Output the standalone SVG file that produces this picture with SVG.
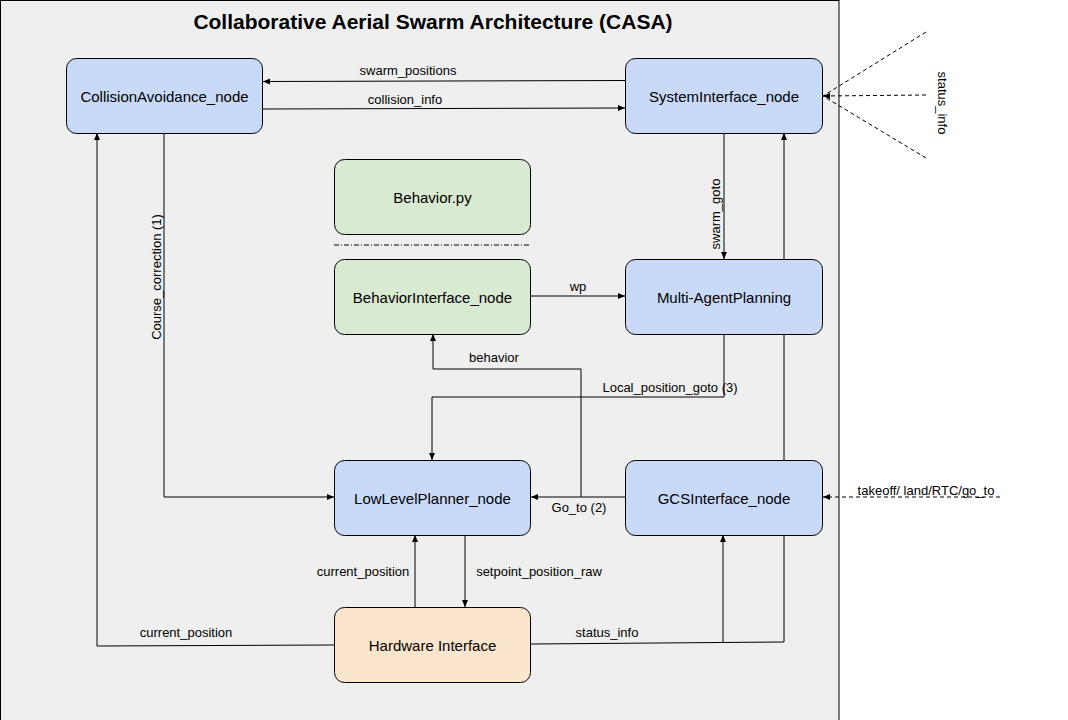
<svg xmlns="http://www.w3.org/2000/svg" width="1068" height="720" viewBox="0 0 1068 720">
<defs>
<marker id="ah" markerWidth="8" markerHeight="8" refX="7" refY="4" orient="auto" markerUnits="userSpaceOnUse">
<path d="M0,1 L7,4 L0,7 Z" fill="#000"/>
</marker>
<style>
.node{stroke:#000;stroke-width:1}
.blue{fill:#c9daf8}
.green{fill:#d9ead3}
.orange{fill:#fce5cd}
.nl{font-family:"Liberation Sans",Arial,sans-serif;font-size:15px;fill:#000;text-anchor:middle;dominant-baseline:central}
.el{font-family:"Liberation Sans",Arial,sans-serif;font-size:13px;fill:#000;text-anchor:middle}
.c{fill:none;stroke:#000;stroke-width:1}
.a{marker-end:url(#ah)}
.d{stroke-dasharray:4,3}
</style>
</defs>
<rect x="0" y="0" width="1068" height="720" fill="#fff"/>
<rect x="0.5" y="0.5" width="838.5" height="722" fill="#efefef" stroke="#000" stroke-width="1"/>
<text x="433" y="29" font-family="Liberation Sans,Arial,sans-serif" font-size="21" font-weight="bold" text-anchor="middle">Collaborative Aerial Swarm Architecture (CASA)</text>

<g id="connectors">
<path class="c a" d="M625,80.5 L263,81.5"/>
<path class="c a" d="M263,109 L625,108"/>
<path class="c a" d="M164,133 L164,497 L334,497"/>
<path class="c a" d="M334,645 L97,646 L97,133"/>
<path class="c a" d="M724,133 L724,259"/>
<path class="c a" d="M784,642 L784,133"/>
<path class="c" d="M531,644 L784,642"/>
<path class="c a" d="M723,642 L723,535"/>
<path class="c a" d="M531,296 L625,296"/>
<path class="c a" d="M724,334 L724,397 L432,397 L432,460"/>
<path class="c a" d="M581,497 L581,369 L433,369 L433,334"/>
<path class="c a" d="M625,497 L531,497"/>
<path class="c a" d="M415,607 L415,535"/>
<path class="c a" d="M465,535 L465,607"/>
<path class="c a d" d="M1000,497 L823,497"/>
<path class="c d" d="M926,32 L823,96"/>
<path class="c a d" d="M926,95 L823,96"/>
<path class="c d" d="M926,158 L823,96"/>
<path class="c" d="M334,245 L531,245" stroke-dasharray="5,2,1,2"/>
<text class="el" x="408" y="75">swarm_positions</text>
<text class="el" x="405" y="104">collision_info</text>
<text class="el" transform="translate(161,277) rotate(-90)">Course_correction (1)</text>
<text class="el" x="186" y="637">current_position</text>
<text class="el" transform="translate(720,214) rotate(-90)">swarm_goto</text>
<text class="el" x="607" y="637">status_info</text>
<text class="el" x="578" y="291">wp</text>
<text class="el" x="670" y="392">Local_position_goto (3)</text>
<text class="el" x="494" y="362">behavior</text>
<text class="el" x="579" y="512">Go_to (2)</text>
<text class="el" x="363" y="576">current_position</text>
<text class="el" x="539" y="576">setpoint_position_raw</text>
<text class="el" x="926" y="495">takeoff/ land/RTC/go_to</text>
<text class="el" transform="translate(938,103) rotate(90)">status_info</text>
</g>

<g id="n-collision"><rect class="node blue" x="66.5" y="58.5" width="196" height="75" rx="10"/><text class="nl" x="164.5" y="96">CollisionAvoidance_node</text></g>
<g id="n-system"><rect class="node blue" x="625.5" y="58.5" width="197" height="75" rx="10"/><text class="nl" x="724" y="96">SystemInterface_node</text></g>
<g id="n-behavior"><rect class="node green" x="334.5" y="159.5" width="196" height="75" rx="10"/><text class="nl" x="432.5" y="197">Behavior.py</text></g>
<g id="n-behaviorif"><rect class="node green" x="334.5" y="259.5" width="196" height="75" rx="10"/><text class="nl" x="432.5" y="297">BehaviorInterface_node</text></g>
<g id="n-map"><rect class="node blue" x="625.5" y="259.5" width="197" height="75" rx="10"/><text class="nl" x="724" y="297">Multi-AgentPlanning</text></g>
<g id="n-llp"><rect class="node blue" x="334.5" y="460.5" width="196" height="75" rx="10"/><text class="nl" x="432.5" y="498">LowLevelPlanner_node</text></g>
<g id="n-gcs"><rect class="node blue" x="625.5" y="460.5" width="197" height="75" rx="10"/><text class="nl" x="724" y="498">GCSInterface_node</text></g>
<g id="n-hw"><rect class="node orange" x="334.5" y="607.5" width="196" height="75" rx="10"/><text class="nl" x="432.5" y="645">Hardware Interface</text></g>
</svg>
